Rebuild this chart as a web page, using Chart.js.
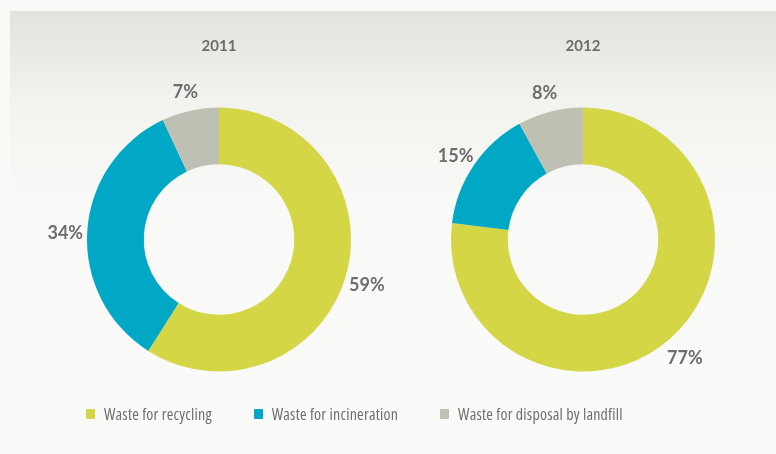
<!DOCTYPE html>
<html>
<head>
<meta charset="utf-8">
<script src="https://cdn.jsdelivr.net/npm/chart.js@4/dist/chart.umd.min.js"></script>
<style>
  body {
    margin: 0;
    width: 776px;
    height: 454px;
    position: relative;
    overflow: hidden;
    background: #f9f9f7;
    font-family: Lato, sans-serif;
  }
  .panel {
    position: absolute;
    left: 10px;
    top: 11px;
    right: 0;
    bottom: 1px;
    background: linear-gradient(#e3e3dd 0px, #f2f2ee 90px, #f9f9f7 190px, #fafaf8 100%);
  }
  canvas {
    position: absolute;
    top: 0;
  }
  #legend {
    position: absolute;
    left: 86px;
    top: 404px;
    display: flex;
    gap: 42px;
    color: #6f6f6f;
    font-family: "Open Sans", Lato, sans-serif;
    font-stretch: 75%;
    font-size: 16px;
    letter-spacing: 0.2px;
    line-height: 20px;
  }
  #legend .item {
    display: flex;
    align-items: center;
  }
  #legend .swatch {
    width: 9px;
    height: 10px;
    border-radius: 1px;
    margin-right: 9px;
  }
</style>
</head>
<body>
<div class="panel"></div>
<canvas id="chart2011" width="364" height="454" style="left:37px"></canvas>
<canvas id="chart2012" width="364" height="454" style="left:401px"></canvas>
<div id="legend"></div>

<script>
const years = ['2011', '2012'];
const categories = ['Waste for recycling', 'Waste for incineration', 'Waste for disposal by landfill'];
const shares2011 = [59, 34, 7];
const shares2012 = [77, 15, 8];
const colours = ['#d4d646', '#00a8c5', '#bfc0b4'];

const textColour = '#6d6d6d';

// Percent labels just outside each slice, on its middle angle
const sliceLabels = {
  id: 'sliceLabels',
  afterDatasetsDraw(chart) {
    const { ctx } = chart;
    const values = chart.data.datasets[0].data;
    ctx.save();
    ctx.font = 'bold 18px Lato, sans-serif';
    ctx.fillStyle = textColour;
    ctx.textAlign = 'center';
    ctx.textBaseline = 'middle';
    chart.getDatasetMeta(0).data.forEach((arc, i) => {
      const { x, y, startAngle, endAngle, outerRadius } =
        arc.getProps(['x', 'y', 'startAngle', 'endAngle', 'outerRadius'], true);
      const mid = (startAngle + endAngle) / 2;
      const r = outerRadius + 22;
      ctx.fillText(values[i] + '%', x + Math.cos(mid) * r, y + Math.sin(mid) * r + 3);
    });
    ctx.restore();
  },
};

function drawDonut(canvasId, year, shares) {
  return new Chart(document.getElementById(canvasId), {
    type: 'doughnut',
    data: {
      labels: categories,
      datasets: [{
        data: shares,
        backgroundColor: colours,
        borderWidth: 0,
      }],
    },
    options: {
      responsive: false,
      animation: false,
      cutout: '57%',
      layout: {
        padding: { top: 37, bottom: 82.5, left: 0, right: 0 },
      },
      plugins: {
        legend: { display: false },
        tooltip: { enabled: false },
        title: {
          display: true,
          text: year,
          color: textColour,
          font: { family: 'Lato, sans-serif', size: 15, weight: 'bold', lineHeight: 1.2 },
          padding: { top: 0, bottom: 52.5 },
        },
      },
    },
    plugins: [sliceLabels],
  });
}

drawDonut('chart2011', years[0], shares2011);
drawDonut('chart2012', years[1], shares2012);

// Shared legend under both charts
const legend = document.getElementById('legend');
categories.forEach((name, i) => {
  const item = document.createElement('div');
  item.className = 'item';
  const swatch = document.createElement('span');
  swatch.className = 'swatch';
  swatch.style.background = colours[i];
  const label = document.createElement('span');
  label.textContent = name;
  item.append(swatch, label);
  legend.append(item);
});
</script>
</body>
</html>
